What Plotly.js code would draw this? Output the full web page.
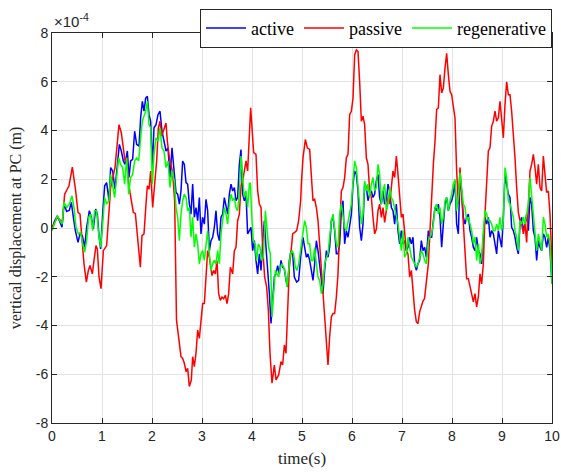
<!DOCTYPE html>
<html>
<head>
<meta charset="utf-8">
<script src="https://cdn.plot.ly/plotly-3.0.1.min.js"></script>
<style>html,body{margin:0;padding:0;background:#fff;}#chart{width:561px;height:476px;}</style>
</head>
<body>
<div id="chart"></div>
<script>
// values in units of 1e-4 m
const passiveT = [0,0.107,0.207,0.253,0.34,0.407,0.473,0.52,0.56,0.6,0.64,0.687,0.727,0.76,0.807,0.84,0.88,0.907,0.94,0.98,1.027,1.093,1.127,1.173,1.26,1.293,1.34,1.387,1.427,1.46,1.493,1.527,1.56,1.627,1.667,1.7,1.733,1.767,1.8,1.84,1.88,1.907,1.94,1.973,2.013,2.053,2.093,2.127,2.16,2.193,2.24,2.28,2.307,2.347,2.413,2.453,2.49,2.533,2.58,2.613,2.647,2.68,2.713,2.747,2.787,2.813,2.847,2.88,2.913,2.947,2.98,3.013,3.047,3.08,3.113,3.147,3.167,3.2,3.233,3.267,3.3,3.333,3.367,3.4,3.433,3.467,3.5,3.533,3.567,3.613,3.647,3.68,3.713,3.747,3.78,3.813,3.847,3.88,3.913,3.947,3.973,4.0,4.033,4.08,4.113,4.147,4.18,4.213,4.253,4.293,4.327,4.36,4.4,4.447,4.48,4.533,4.58,4.613,4.647,4.68,4.713,4.747,4.78,4.813,4.853,4.893,4.933,4.973,4.987,5.02,5.067,5.107,5.153,5.187,5.22,5.253,5.287,5.32,5.353,5.387,5.42,5.453,5.487,5.52,5.553,5.587,5.62,5.653,5.687,5.72,5.753,5.787,5.82,5.853,5.887,5.92,5.953,5.987,6.02,6.053,6.087,6.12,6.153,6.187,6.22,6.253,6.287,6.32,6.353,6.387,6.42,6.453,6.487,6.52,6.553,6.587,6.62,6.653,6.687,6.72,6.753,6.787,6.82,6.853,6.887,6.92,6.953,6.987,7.02,7.053,7.087,7.12,7.153,7.187,7.22,7.253,7.287,7.32,7.353,7.387,7.42,7.45,7.48,7.527,7.56,7.593,7.627,7.66,7.693,7.727,7.76,7.793,7.827,7.86,7.893,7.927,7.96,7.993,8.027,8.06,8.093,8.127,8.16,8.193,8.227,8.26,8.293,8.327,8.36,8.393,8.427,8.46,8.493,8.527,8.56,8.593,8.627,8.66,8.693,8.727,8.76,8.793,8.827,8.86,8.893,8.927,8.96,8.993,9.027,9.06,9.093,9.127,9.16,9.193,9.227,9.26,9.293,9.327,9.36,9.393,9.427,9.46,9.493,9.527,9.56,9.593,9.627,9.66,9.693,9.727,9.76,9.793,9.827,9.86,9.893,9.927,9.96,10.0];
const passiveV = [0,0.44,0.23,1.39,1.73,2.5,1.52,0.64,0.57,-0.59,-1.47,-2.22,-1.74,-1.54,-1.88,-1.33,-0.72,-0.86,-2.01,-2.49,-0.93,-0.72,0.16,1.66,2.48,3.29,4.24,3.9,3.22,2.75,2.88,1.93,1.46,0.64,0.6,-0.24,-1.06,-1.61,-0.31,-0.24,0.98,1.73,1.59,2.34,0.84,1.8,2.75,4.11,4.38,3.77,4.11,4.31,3.56,2.88,2.27,1.12,-3.78,-4.46,-5.28,-5.35,-5.55,-5.89,-5.76,-6.5,-6.23,-5.28,-5.69,-5.14,-4.19,-4.53,-3.92,-3.1,-3.1,-1.88,-0.93,-1.2,-1.47,-1.95,-1.74,-1.88,-1.33,-2.69,-2.97,-2.83,-2.9,-2.76,-3.1,-2.69,-1.61,-1.88,-0.93,-0.79,0.3,0.57,1.73,1.93,2.34,2.75,2.34,3.56,4.93,4.11,3.09,3.02,1.52,0.98,0.84,-0.79,-2.01,-2.42,-3.37,-5.14,-6.37,-5.62,-6.23,-6.03,-5.48,-5.62,-4.8,-5.14,-3.65,-1.61,-0.99,-0.24,-0.18,-0.11,0.3,1.12,1.8,2.88,3.63,3.29,3.22,2.2,1.12,1.18,0.84,0.3,-0.65,-1.74,-2.83,-3.51,-4.73,-5.62,-4.46,-3.65,-3.51,-3.51,-2.83,-1.88,-0.11,1.52,1.66,2.07,2.88,3.02,4.65,4.79,5.33,7.1,7.31,7.24,6.01,4.38,4.59,4.24,2.88,2.61,1.52,1.25,0.44,-0.24,-0.04,0.71,0.98,0.44,0.84,0.23,0.71,1.25,0.98,1.8,2.34,2.07,2.95,2.2,1.25,0.44,0.57,-0.24,-0.93,-1.06,-2.01,-1.74,-2.56,-3.37,-3.85,-3.92,-3.44,-3.2,-3.0,-2.9,-2.3,-1.47,-0.11,1.52,2.61,3.56,4.86,4.93,6.29,5.54,5.74,6.56,7.17,6.29,5.61,5.47,4.86,4.52,2.34,0.98,2.48,1.25,-0.11,-1.2,-2.08,-2.08,-2.42,-2.83,-3.03,-2.69,-3.24,-2.83,-1.88,-2.29,-1.47,0.57,2.07,3.16,3.29,4.18,4.38,4.79,4.38,4.52,5.2,4.31,3.7,5.06,6.0,5.47,5.47,4.79,3.97,2.88,1.66,0.64,0.3,0.16,-0.24,0.16,-0.59,1.12,2.34,2.61,3.02,2.48,1.8,2.61,1.66,1.52,2.95,2.2,1.46,1.52,0.57,-1.47];

const activeT = [0,0.053,0.107,0.153,0.2,0.24,0.293,0.347,0.387,0.427,0.467,0.52,0.56,0.607,0.653,0.693,0.747,0.787,0.827,0.873,0.907,0.94,0.973,1.013,1.053,1.093,1.14,1.173,1.213,1.26,1.307,1.347,1.387,1.427,1.46,1.507,1.54,1.573,1.613,1.653,1.693,1.74,1.773,1.807,1.84,1.873,1.907,1.94,1.973,2.007,2.04,2.08,2.12,2.16,2.2,2.24,2.28,2.32,2.36,2.4,2.447,2.48,2.513,2.547,2.58,2.613,2.647,2.68,2.713,2.747,2.78,2.813,2.847,2.88,2.913,2.947,2.98,3.013,3.047,3.08,3.113,3.147,3.18,3.213,3.247,3.28,3.313,3.347,3.38,3.413,3.447,3.48,3.513,3.547,3.58,3.613,3.647,3.68,3.713,3.747,3.78,3.813,3.847,3.88,3.913,3.947,3.98,4.013,4.047,4.08,4.113,4.147,4.18,4.213,4.247,4.28,4.313,4.347,4.38,4.413,4.447,4.48,4.513,4.547,4.58,4.613,4.647,4.68,4.713,4.747,4.78,4.813,4.847,4.893,4.933,4.973,5.02,5.053,5.087,5.12,5.153,5.187,5.22,5.253,5.287,5.32,5.353,5.387,5.42,5.453,5.487,5.52,5.553,5.587,5.62,5.653,5.687,5.72,5.753,5.787,5.82,5.853,5.887,5.92,5.953,5.987,6.02,6.053,6.087,6.12,6.153,6.187,6.22,6.253,6.287,6.32,6.353,6.387,6.42,6.453,6.487,6.52,6.553,6.587,6.62,6.653,6.687,6.72,6.753,6.787,6.82,6.853,6.887,6.92,6.953,6.987,7.02,7.053,7.087,7.12,7.153,7.187,7.22,7.253,7.287,7.32,7.353,7.387,7.42,7.453,7.487,7.527,7.56,7.593,7.627,7.66,7.693,7.727,7.76,7.793,7.827,7.86,7.893,7.927,7.96,7.993,8.027,8.06,8.093,8.127,8.16,8.193,8.227,8.26,8.293,8.327,8.36,8.393,8.427,8.46,8.493,8.527,8.56,8.593,8.627,8.66,8.693,8.727,8.76,8.793,8.827,8.86,8.893,8.927,8.96,8.993,9.027,9.06,9.093,9.127,9.16,9.193,9.227,9.26,9.293,9.327,9.36,9.393,9.427,9.46,9.493,9.527,9.56,9.593,9.627,9.66,9.693,9.727,9.76,9.793,9.827,9.86,9.893,9.927,9.96,10.0];
const activeV = [-0.04,0.3,0.5,0.3,0.03,0.98,0.68,0.73,1.05,0.44,-0.11,-0.59,-0.24,-0.31,-0.79,0.03,0.71,0.44,-0.04,0.78,0.57,-0.31,-0.86,0.57,1.73,1.86,1.12,2.48,2.34,1.59,2.61,3.43,3.16,2.75,2.61,3.16,2.07,2.75,2.82,3.97,3.43,3.36,4.52,5.2,4.79,5.33,5.4,4.65,4.38,2.48,4.11,4.24,4.65,4.79,3.97,3.56,3.16,3.29,2.07,3.29,2.34,1.46,1.39,0.98,1.52,2.75,2.61,1.86,1.8,0.98,0.57,1.8,0.44,0.84,0.3,1.25,-0.24,0.44,0.16,1.18,0.71,-0.93,-0.52,-0.38,0.03,0.71,-0.24,-0.52,0.44,0.57,1.25,0.84,0.57,1.39,1.8,1.52,1.66,1.12,1.25,2.61,3.22,1.39,1.12,1.39,-0.24,-0.11,0.03,-0.93,-0.52,-1.33,-1.88,-1.06,-1.74,-0.65,0.3,-0.79,-1.61,-2.69,-3.92,-2.97,-2.01,-1.88,-1.54,-1.88,-1.33,-1.61,-1.67,-2.15,-2.42,-1.33,-0.93,-1.06,-2.01,-2.22,-2.15,-1.2,-0.38,-0.79,-1.2,-1.06,-1.33,-1.74,-2.15,-1.47,-0.52,-0.93,-1.47,-2.15,-2.69,-1.74,-0.93,-1.2,-0.79,0.3,0.44,-0.11,-1.06,-1.06,-0.65,0.71,1.12,-0.65,-0.11,-0.38,0.16,0.57,1.8,2.34,2.2,1.52,0.03,-0.52,0.16,1.8,1.66,1.12,1.39,1.52,1.25,1.39,1.93,2.2,1.25,0.98,1.52,0.98,1.12,1.8,1.52,0.84,0.71,0.16,0.98,-0.11,-0.65,-0.11,-0.65,-0.52,-0.93,-0.79,-0.38,-0.65,-0.38,-1.47,-1.74,-1.47,-1.33,-0.52,-0.93,-0.79,-1.2,-0.11,-0.38,-0.38,0.3,0.84,0.71,0.98,0.44,-0.79,0.16,0.98,1.25,0.71,0.98,1.12,1.39,1.93,0.16,-0.24,2.07,1.52,0.44,0.16,0.44,0.57,-0.11,-0.38,-0.79,-0.93,-0.38,-0.93,-1.06,-1.47,-0.38,0.44,0.16,0.44,-0.38,-0.11,-0.24,-0.65,-1.06,-0.11,-0.52,-0.79,0.44,2.2,1.8,1.39,1.25,0.03,-0.11,-0.38,-0.79,-1.06,0.16,0.44,-0.11,0.16,0.57,-0.11,1.25,0.98,-0.11,-0.38,-1.33,-0.52,-0.79,-0.93,-0.24,-0.38,-0.79,-0.38,-0.93,-2.29];

const regenT = [0,0.053,0.107,0.16,0.2,0.24,0.293,0.347,0.4,0.44,0.48,0.527,0.573,0.613,0.653,0.693,0.733,0.773,0.813,0.853,0.893,0.933,0.973,1.013,1.053,1.093,1.14,1.173,1.213,1.253,1.293,1.333,1.373,1.413,1.453,1.493,1.533,1.573,1.613,1.653,1.693,1.733,1.773,1.807,1.84,1.873,1.907,1.94,1.973,2.007,2.04,2.08,2.12,2.16,2.2,2.24,2.28,2.32,2.36,2.4,2.447,2.48,2.513,2.547,2.58,2.613,2.647,2.68,2.713,2.747,2.78,2.813,2.847,2.88,2.913,2.947,2.98,3.013,3.047,3.08,3.113,3.147,3.18,3.213,3.247,3.28,3.313,3.347,3.38,3.413,3.447,3.48,3.513,3.547,3.58,3.613,3.647,3.68,3.713,3.747,3.78,3.813,3.847,3.88,3.913,3.947,3.967,4.0,4.027,4.06,4.093,4.127,4.16,4.193,4.227,4.267,4.3,4.333,4.367,4.4,4.433,4.467,4.5,4.533,4.567,4.6,4.633,4.667,4.7,4.733,4.767,4.8,4.833,4.867,4.9,4.933,4.973,5.02,5.053,5.087,5.12,5.153,5.187,5.22,5.253,5.287,5.32,5.353,5.387,5.42,5.453,5.487,5.52,5.553,5.587,5.62,5.653,5.687,5.72,5.753,5.787,5.82,5.853,5.887,5.92,5.953,5.987,6.02,6.053,6.087,6.12,6.153,6.187,6.22,6.253,6.287,6.32,6.353,6.387,6.42,6.453,6.487,6.52,6.553,6.587,6.62,6.653,6.687,6.72,6.753,6.787,6.82,6.853,6.887,6.92,6.953,6.987,7.02,7.053,7.087,7.12,7.153,7.187,7.22,7.253,7.287,7.32,7.353,7.387,7.42,7.453,7.487,7.527,7.56,7.593,7.627,7.66,7.693,7.727,7.76,7.793,7.827,7.86,7.893,7.927,7.96,7.993,8.027,8.06,8.093,8.127,8.16,8.193,8.227,8.26,8.293,8.327,8.36,8.393,8.427,8.46,8.493,8.527,8.56,8.593,8.627,8.66,8.693,8.727,8.76,8.793,8.827,8.86,8.893,8.927,8.96,8.993,9.027,9.06,9.093,9.127,9.16,9.193,9.227,9.26,9.293,9.327,9.36,9.393,9.427,9.46,9.493,9.527,9.56,9.593,9.627,9.66,9.693,9.727,9.76,9.793,9.827,9.86,9.893,9.927,9.96,10.0];
const regenV = [-0.11,0.23,0.5,0.3,0.16,1.05,0.84,0.98,1.32,0.84,0.03,-0.24,-0.18,-0.65,-0.99,-0.52,0.44,0.57,-0.11,0.71,0.71,-0.24,-0.79,0.16,1.25,0.98,1.12,2.2,1.8,1.25,2.07,2.88,2.61,2.48,1.8,2.88,1.39,2.07,2.2,2.75,2.88,2.75,3.7,4.38,4.59,4.79,5.2,4.24,4.11,1.8,3.02,3.7,3.56,4.11,3.29,3.16,2.48,2.75,1.66,2.34,1.93,0.84,0.44,-0.52,0.57,1.12,1.39,1.25,0.71,0.84,-0.38,0.44,-0.79,-0.24,-0.65,-1.47,-1.06,-0.93,-1.33,-0.79,-0.11,-1.06,-1.74,-1.47,-1.33,-1.47,-0.93,-1.47,-0.24,0.3,0.84,0.57,0.16,0.98,1.39,1.12,1.25,0.84,0.71,1.39,2.95,2.07,1.25,1.52,0.84,1.8,1.86,0.3,-0.52,-0.65,-1.33,-0.65,-0.79,-1.33,-1.2,0.71,0.03,-0.79,-1.06,-3.65,-2.69,-1.74,-1.88,-2.01,-1.61,-1.47,-1.61,-1.88,-2.42,-1.61,-1.06,-0.93,-1.06,-1.61,-1.74,-1.47,-0.93,-0.11,0.3,0.03,-0.65,-0.65,-1.33,-1.33,-0.79,-1.47,-2.01,-2.15,-2.69,-2.29,-1.47,-1.2,-1.06,-0.38,0.3,0.57,0.03,-0.65,-0.79,0.57,0.98,0.44,0.03,-0.11,0.3,0.57,0.98,1.93,2.75,2.48,1.8,0.98,0.16,0.57,1.93,1.52,1.8,1.25,1.8,2.07,1.52,1.66,2.61,2.2,0.98,1.52,1.8,0.71,0.98,1.66,1.25,1.12,0.84,0.44,0.16,-0.38,-0.93,-0.11,-1.2,-1.06,-0.38,-0.79,-1.2,-1.33,-1.47,-1.61,-1.47,-1.2,-0.93,-1.06,-1.33,-1.47,-0.52,-0.38,-0.24,0.16,0.84,0.98,0.57,0.84,0.16,0.44,1.12,1.25,0.71,1.12,1.39,1.8,2.0,0.71,1.25,2.27,1.52,0.98,0.84,0.3,0.44,0.16,-0.11,-0.65,-0.38,-1.33,-0.65,-1.47,-1.2,-0.11,0.71,0.57,0.3,0.3,0.16,-0.11,-0.11,0.16,-0.11,0.44,-0.11,0.3,2.48,2.07,1.12,0.98,0.71,0.44,-0.11,-0.38,-0.93,0.3,0.16,0.44,0.16,0.57,0.98,2.07,1.25,0.71,-0.11,-0.93,-0.24,-0.65,-0.93,0.44,0.16,-0.38,-0.24,-0.65,-2.29];

const seriesNames = ['active', 'passive', 'regenerative'];
const xTicks = [0,1,2,3,4,5,6,7,8,9,10];
const yTicks = [-8,-6,-4,-2,0,2,4,6,8];

const lw = 1.5;
const traces = [
  {x: activeT, y: activeV, name: seriesNames[0], type: 'scatter', mode: 'lines', line: {color: '#0000ff', width: lw}},
  {x: passiveT, y: passiveV, name: seriesNames[1], type: 'scatter', mode: 'lines', line: {color: '#ff0000', width: lw}},
  {x: regenT, y: regenV, name: seriesNames[2], type: 'scatter', mode: 'lines', line: {color: '#00ff00', width: lw}}
];

const tickFont = {family: 'Liberation Sans, Arial, sans-serif', size: 14, color: '#262626'};
const serif = 'Liberation Serif, Times New Roman, serif';

const layout = {
  width: 561, height: 476,
  margin: {l: 52, r: 9, t: 31, b: 53},
  paper_bgcolor: '#ffffff', plot_bgcolor: '#ffffff',
  showlegend: true,
  legend: {
    orientation: 'h', x: 1, xanchor: 'right', y: 1.062, yanchor: 'top',
    bgcolor: '#ffffff', bordercolor: '#262626', borderwidth: 1,
    font: {family: serif, size: 18, color: '#000000'},
    itemwidth: 40, tracegroupgap: 0
  },
  xaxis: {
    range: [0, 10], tickvals: xTicks, ticktext: xTicks.map(String),
    showgrid: true, gridcolor: '#e3e3e3', gridwidth: 1,
    zeroline: false, showline: true, linecolor: '#262626', linewidth: 1, mirror: 'ticks',
    ticks: 'inside', ticklen: 5, tickcolor: '#262626',
    tickfont: tickFont,
    title: {text: 'time(s)', font: {family: serif, size: 17, color: '#262626'}, standoff: 9}
  },
  yaxis: {
    range: [-8, 8], tickvals: yTicks, ticktext: yTicks.map(String),
    showgrid: true, gridcolor: '#e3e3e3', gridwidth: 1,
    zeroline: false, showline: true, linecolor: '#262626', linewidth: 1, mirror: 'ticks',
    ticks: 'inside', ticklen: 5, tickcolor: '#262626',
    tickfont: tickFont,
    title: {text: 'vertical displacement at PC (m)', font: {family: serif, size: 16, color: '#262626'}, standoff: 10}
  },
  annotations: [{
    xref: 'paper', yref: 'paper', x: 0, y: 1, xanchor: 'left', yanchor: 'bottom',
    text: '×10<sup>-4</sup>', showarrow: false, yshift: 1,
    font: {family: 'Liberation Sans, Arial, sans-serif', size: 15, color: '#262626'}
  }]
};

Plotly.newPlot('chart', traces, layout, {displayModeBar: false, staticPlot: true});
</script>
</body>
</html>
